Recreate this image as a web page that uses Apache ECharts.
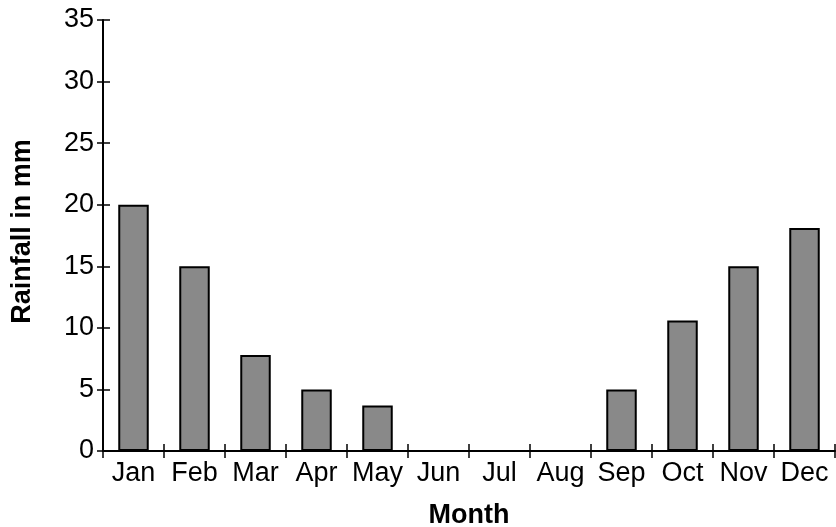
<!DOCTYPE html>
<html>
<head>
<meta charset="utf-8">
<script src="https://cdn.jsdelivr.net/npm/echarts@6/dist/echarts.min.js"></script>
<style>html,body{margin:0;padding:0;background:#fff;}#c{width:836px;height:527px;}</style>
</head>
<body>
<div id="c"></div>
<script>
const months = ['Jan','Feb','Mar','Apr','May','Jun','Jul','Aug','Sep','Oct','Nov','Dec'];
const rainfall = [20, 15, 7.8, 5, 3.7, 0, 0, 0, 5, 10.6, 15, 18.1];
const yTitle = 'Rainfall in mm';
const xTitle = 'Month';

const font = 'Liberation Sans, Arial, Helvetica, sans-serif';
const chart = echarts.init(document.getElementById('c'), null, {renderer: 'canvas'});
const lineStyle = {color: '#000', width: 2};
chart.setOption({
  animation: false,
  backgroundColor: '#fff',
  grid: {left: 103, right: 1, top: 20, bottom: 76, containLabel: false, outerBoundsMode: 'none'},
  xAxis: [{
    type: 'category', data: months, boundaryGap: true,
    axisLine: {show: true, lineStyle: lineStyle},
    axisTick: {show: true, inside: false, length: 7, lineStyle: {color: '#000', width: 1.5}},
    axisLabel: {color: '#000', fontSize: 27, fontFamily: font, margin: 9, interval: 0, hideOverlap: false},
    name: xTitle, nameLocation: 'middle', nameGap: 51,
    nameTextStyle: {color: '#000', fontSize: 27, fontWeight: 'bold', fontFamily: font}
  }, {
    type: 'category', data: months, boundaryGap: true, position: 'bottom', offset: 0,
    axisLine: {show: false},
    axisTick: {show: true, inside: true, length: 7, lineStyle: {color: '#000', width: 1.5}},
    axisLabel: {show: false}
  }],
  yAxis: [{
    type: 'value', min: 0, max: 35, interval: 5,
    axisLine: {show: true, lineStyle: lineStyle},
    axisTick: {show: true, inside: false, length: 6, lineStyle: {color: '#000', width: 1.5}},
    axisLabel: {color: '#000', fontSize: 27, fontFamily: font, margin: 9},
    splitLine: {show: false},
    name: yTitle, nameLocation: 'middle', nameGap: 67, nameRotate: 90,
    nameTextStyle: {color: '#000', fontSize: 27, fontWeight: 'bold', fontFamily: font, padding: [0, 0, 0, 8]}
  }, {
    type: 'value', min: 0, max: 35, interval: 5, position: 'left', offset: 0,
    axisLine: {show: false},
    axisTick: {show: true, inside: true, length: 7, lineStyle: {color: '#000', width: 1.5}},
    axisLabel: {show: false},
    splitLine: {show: false}
  }],
  series: [{
    type: 'bar', data: rainfall, xAxisIndex: 0, yAxisIndex: 0,
    barWidth: '50%',
    itemStyle: {color: '#898989', borderColor: '#000', borderWidth: 2}
  }]
});
</script>
</body>
</html>
